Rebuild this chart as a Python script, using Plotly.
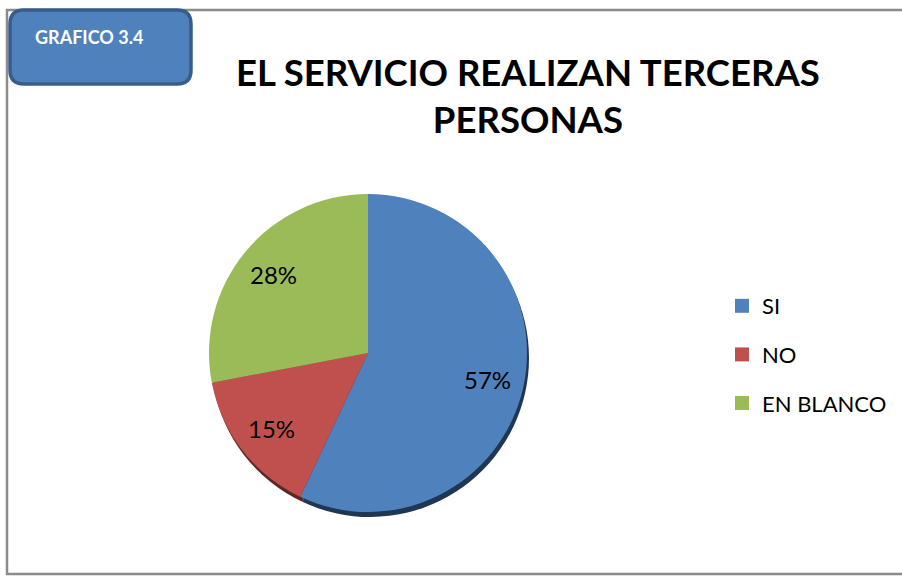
import math
import plotly.graph_objects as go

# ---- data ----
categories = ["SI", "NO", "EN BLANCO"]
values = [57, 15, 28]
colors = ["#4F81BD", "#C0504D", "#9BBB59"]
shadow_colors = ["#1F3654", "#5E2725", "#4E5E2C"]
title_text = "EL SERVICIO REALIZAN TERCERAS<br>PERSONAS"
badge_text = "GRAFICO 3.4"

W, H = 902, 576

def px(x):
    return x / W

def py(y):
    return 1 - y / H

cx, cy, r = 368, 353, 159

fig = go.Figure()

# shadow pie (offset slightly down/right)
sdx, sdy = 2, 5
fig.add_trace(go.Pie(
    labels=categories, values=values, sort=False, direction="clockwise", rotation=0,
    marker=dict(colors=shadow_colors, line=dict(width=0)),
    textinfo="none", hoverinfo="skip", showlegend=False,
    domain=dict(x=[px(cx + sdx - r), px(cx + sdx + r)], y=[py(cy + sdy + r), py(cy + sdy - r)]),
))

fig.add_trace(go.Pie(
    labels=categories, values=values, sort=False, direction="clockwise", rotation=0,
    marker=dict(colors=colors, line=dict(width=0)),
    textinfo="none",
    hoverinfo="label+percent", showlegend=False,
    domain=dict(x=[px(cx - r), px(cx + r)], y=[py(cy + r), py(cy - r)]),
))

# percentage labels placed along each slice's bisector
total = sum(values)
cum = 0
for v in values:
    mid = (cum + v / 2) / total * 2 * math.pi
    cum += v
    lx = cx + 0.77 * r * math.sin(mid)
    ly = cy - 0.77 * r * math.cos(mid)
    fig.add_annotation(text=f"{round(100 * v / total)}%", xref="paper", yref="paper",
                       x=px(lx), y=py(ly), xanchor="center", yanchor="middle", showarrow=False,
                       font=dict(family="Lato", size=24, color="#000000"))

# legend entries (one per category)
for name, col in zip(categories, colors):
    fig.add_trace(go.Scatter(
        x=[None], y=[None], mode="markers", name=name, legendgroup=name,
        marker=dict(symbol="square", size=14, color=col),
        showlegend=True, hoverinfo="skip",
    ))

fig.update_layout(
    width=W, height=H,
    margin=dict(l=0, r=0, t=0, b=0),
    paper_bgcolor="white", plot_bgcolor="white",
    xaxis=dict(visible=False, domain=[0.9, 0.91]),
    yaxis=dict(visible=False, domain=[0.9, 0.91]),
    legend=dict(
        x=px(722), y=py(285), xanchor="left", yanchor="top",
        font=dict(family="Lato", size=22, color="#000000"),
        tracegroupgap=17, itemclick=False, itemdoubleclick=False,
        bgcolor="rgba(0,0,0,0)",
    ),
    showlegend=True,
)

# outer frame
fig.add_shape(type="rect", xref="paper", yref="paper",
              x0=px(7), x1=px(906), y0=py(574), y1=py(10),
              line=dict(color="#8C8C8C", width=2.5), fillcolor="rgba(0,0,0,0)", layer="below")

# badge (rounded rectangle)
bx0, by0, bx1, by1, rr = 10, 10, 191, 84, 14
path = (
    f"M {px(bx0 + rr)},{py(by0)} L {px(bx1 - rr)},{py(by0)} "
    f"Q {px(bx1)},{py(by0)} {px(bx1)},{py(by0 + rr)} "
    f"L {px(bx1)},{py(by1 - rr)} Q {px(bx1)},{py(by1)} {px(bx1 - rr)},{py(by1)} "
    f"L {px(bx0 + rr)},{py(by1)} Q {px(bx0)},{py(by1)} {px(bx0)},{py(by1 - rr)} "
    f"L {px(bx0)},{py(by0 + rr)} Q {px(bx0)},{py(by0)} {px(bx0 + rr)},{py(by0)} Z"
)
fig.add_shape(type="path", xref="paper", yref="paper", path=path,
              fillcolor="#4F81BD", line=dict(color="#385D8A", width=3.5))

fig.add_annotation(text=f"<b>{badge_text}</b>", xref="paper", yref="paper",
                   x=px(33), y=py(37), xanchor="left", yanchor="middle", showarrow=False,
                   font=dict(family="Lato", size=18, color="white"))

fig.add_annotation(text=f"<b>{title_text}</b>", xref="paper", yref="paper",
                   x=px(528), y=py(96), xanchor="center", yanchor="middle", showarrow=False,
                   font=dict(family="Lato", size=36.5, color="#000000"))

fig.write_html("out.html", config={"displayModeBar": False},
               post_script="document.body.style.margin='0';")
